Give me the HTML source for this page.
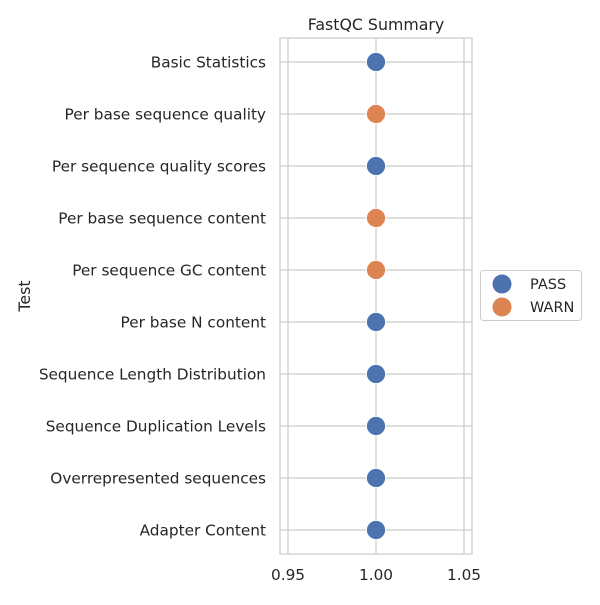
<!DOCTYPE html>
<html><head><meta charset="utf-8"><style>body{margin:0;background:#fff}svg{font-family:"DejaVu Sans","Liberation Sans",sans-serif}</style></head>
<body>
<svg id="c" width="600" height="600" viewBox="0 0 600 600">
<rect x="0" y="0" width="600" height="600" fill="#fff"/>
<g id="grid"></g><g id="marks"></g><g id="labels"></g>
<rect x="280" y="38" width="192" height="516" fill="none" stroke="#cccccc" stroke-width="1.25"/>
<text x="376" y="30" text-anchor="middle" font-size="15.8" fill="#262626">FastQC Summary</text>
<text x="30" y="296" text-anchor="middle" font-size="15.8" fill="#262626" transform="rotate(-90 30 296)">Test</text>
<g>
<rect x="480.5" y="270.5" width="101" height="50" rx="3" fill="#fff" stroke="#cccccc"/>
<circle cx="502" cy="284" r="9.5" fill="#4c72b0"/>
<text x="530" y="289" font-size="14.5" fill="#262626">PASS</text>
<circle cx="502" cy="307" r="9.5" fill="#dd8452"/>
<text x="530" y="312" font-size="14.5" fill="#262626">WARN</text>
</g>
</svg>
<script>
const categories=["Basic Statistics","Per base sequence quality","Per sequence quality scores","Per base sequence content","Per sequence GC content","Per base N content","Sequence Length Distribution","Sequence Duplication Levels","Overrepresented sequences","Adapter Content"];
const values=[1,1,1,1,1,1,1,1,1,1];
const statuses=["PASS","WARN","PASS","WARN","WARN","PASS","PASS","PASS","PASS","PASS"];
const xTicks=[0.95,1.00,1.05];
const xTickLabels=["0.95","1.00","1.05"];
const NS="http://www.w3.org/2000/svg";
const x=v=>288+(v-0.95)/0.05*88;
const y=i=>62+i*52;
const colors={PASS:"#4c72b0",WARN:"#dd8452"};
const grid=document.getElementById('grid'),marks=document.getElementById('marks'),labels=document.getElementById('labels');
function mk(t,a,p){const e=document.createElementNS(NS,t);for(const k in a)e.setAttribute(k,a[k]);p.appendChild(e);return e;}
xTicks.forEach((t,i)=>{
const l=mk('line',{x1:x(t),x2:x(t),y1:38,y2:554,stroke:'#cccccc','stroke-width':1.25},grid);


const tx=mk('text',{x:x(t),y:580,'text-anchor':'middle','font-size':15.3,fill:'#262626'},labels);
tx.textContent=xTickLabels[i];


});
categories.forEach((c,i)=>{
const l=mk('line',{x1:280,x2:472,y1:y(i),y2:y(i),stroke:'#cccccc','stroke-width':1.25},grid);


const tx=mk('text',{x:266,y:y(i)+5.5,'text-anchor':'end','font-size':15.3,fill:'#262626'},labels);
tx.textContent=c;


const p=mk('circle',{cx:x(values[i]),cy:y(i),r:9.5,fill:colors[statuses[i]],stroke:'#fff','stroke-width':0.8},marks);


});
</script>
</body></html>
